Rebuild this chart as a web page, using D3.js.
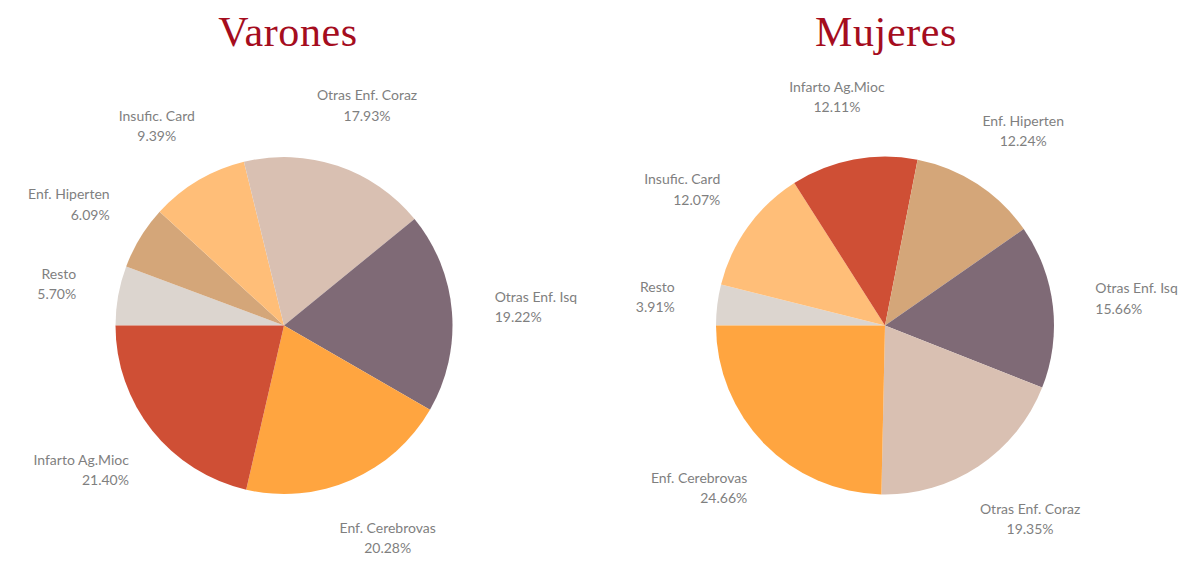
<!DOCTYPE html>
<html><head><meta charset="utf-8">
<script src="https://cdn.jsdelivr.net/npm/d3@7"></script>
<style>body{margin:0;background:#fff}</style>
</head><body>
<svg id="chart" width="1184" height="566"></svg>
<script>
const titles = ["Varones", "Mujeres"];
const catsVarones = ["Resto","Enf. Hiperten","Insufic. Card","Otras Enf. Coraz","Otras Enf. Isq","Enf. Cerebrovas","Infarto Ag.Mioc"];
const valsVarones = [5.70, 6.09, 9.39, 17.93, 19.22, 20.28, 21.40];
const catsMujeres = ["Resto","Insufic. Card","Infarto Ag.Mioc","Enf. Hiperten","Otras Enf. Isq","Otras Enf. Coraz","Enf. Cerebrovas"];
const valsMujeres = [3.91, 12.07, 12.11, 12.24, 15.66, 19.35, 24.66];
const colorCats = ["Resto","Enf. Hiperten","Insufic. Card","Otras Enf. Coraz","Otras Enf. Isq","Enf. Cerebrovas","Infarto Ag.Mioc"];
const colorVals = ["#DCD5CF","#D4A679","#FFBE78","#D9C0B2","#7F6A76","#FFA540","#CF4F35"];

const svg = d3.select("#chart");
const color = d3.scaleOrdinal().domain(colorCats).range(colorVals);

const panels = [
  {title: titles[0], cats: catsVarones, vals: valsVarones, cx: 284, cy: 325.5, r: 168.5, tx: 288},
  {title: titles[1], cats: catsMujeres, vals: valsMujeres, cx: 885, cy: 325.5, r: 169, tx: 886}
];

const pie = d3.pie().sort(null).value(d => d.v)
  .startAngle(-Math.PI/2).endAngle(3*Math.PI/2);

panels.forEach(p => {
  svg.append("text").attr("x", p.tx).attr("y", 46)
    .attr("text-anchor","middle")
    .style("font-family","'Liberation Serif', 'DejaVu Serif', serif")
    .style("font-size","42px").style("letter-spacing","0.6px").attr("fill","#A50D1E")
    .text(p.title);

  const g = svg.append("g").attr("transform", `translate(${p.cx},${p.cy})`);
  const data = pie(p.cats.map((c,i) => ({c, v: p.vals[i]})));
  const arc = d3.arc().innerRadius(0).outerRadius(p.r);
  g.selectAll("path").data(data).join("path")
    .attr("d", arc).attr("fill", d => color(d.data.c));

  const R0 = p.r + 43;
  const lh = 20.5;
  data.forEach(d => {
    const a = (d.startAngle + d.endAngle)/2;
    const ux = Math.sin(a), uy = -Math.cos(a);
    const lg = g.append("g");
    const t1 = lg.append("text").text(d.data.c);
    const t2 = lg.append("text").text(d.data.v.toFixed(2) + "%");
    lg.selectAll("text").style("font-family","Lato, 'Open Sans', sans-serif")
      .style("font-size","14px").attr("fill","#7F7F7F");
    const w = Math.max(t1.node().getComputedTextLength(), t2.node().getComputedTextLength());
    const h = 2*lh;
    const cx = ux*R0 + ux*w/2;
    const cy = uy*R0 + uy*h/2;
    let anchor = "middle", x = cx;
    if (ux < -0.7) { anchor = "end"; x = cx + w/2; }
    else if (ux > 0.7) { anchor = "start"; x = cx - w/2; }
    lg.selectAll("text").attr("text-anchor", anchor).attr("x", x);
    t1.attr("y", cy - lh/2 + 5);
    t2.attr("y", cy + lh/2 + 5);
  });
});
</script>
</body></html>
